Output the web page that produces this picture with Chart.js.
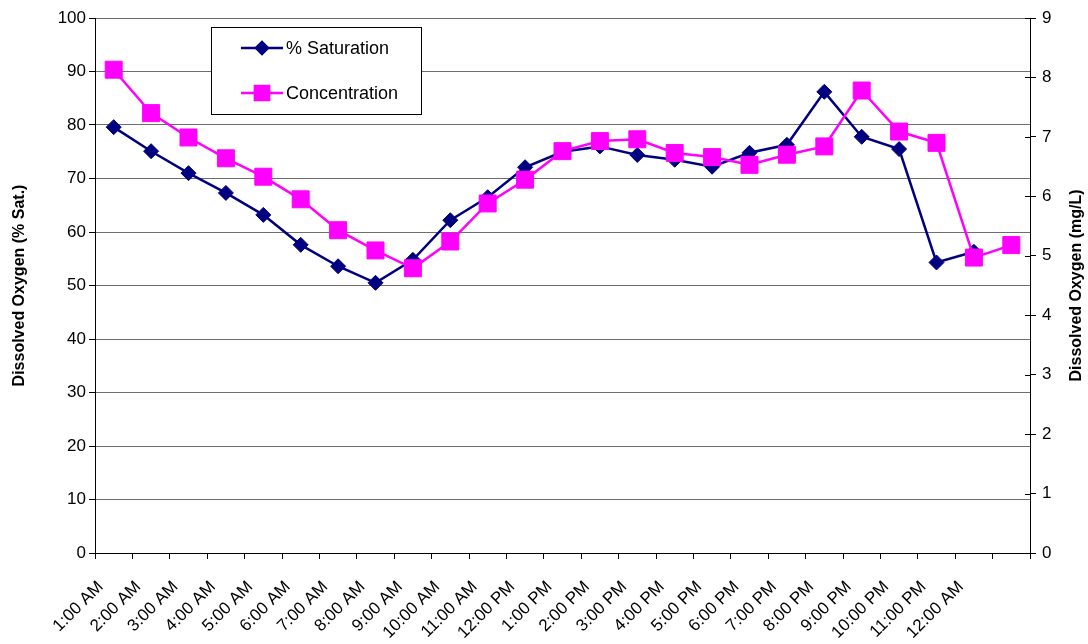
<!DOCTYPE html>
<html>
<head>
<meta charset="utf-8">
<script src="https://cdn.jsdelivr.net/npm/chart.js@4.4.1/dist/chart.umd.min.js"></script>
<style>
  body { margin: 0; background: #fff; }
</style>
</head>
<body>
<canvas id="chart" width="1088" height="644"></canvas>
<script>
// hourly readings, 25 slots (last one has no label)
const hours = ['1:00 AM', '2:00 AM', '3:00 AM', '4:00 AM', '5:00 AM', '6:00 AM', '7:00 AM', '8:00 AM',
    '9:00 AM', '10:00 AM', '11:00 AM', '12:00 PM', '1:00 PM', '2:00 PM', '3:00 PM', '4:00 PM',
    '5:00 PM', '6:00 PM', '7:00 PM', '8:00 PM', '9:00 PM', '10:00 PM', '11:00 PM', '12:00 AM', ''];

const saturation = [79.6, 75.1, 71.0, 67.3, 63.2, 57.6, 53.6, 50.5, 54.8, 62.2, 66.5, 72.1,
    75.0, 76.0, 74.4, 73.5, 72.2, 74.8, 76.3, 86.2, 77.8, 75.5, 54.3, 56.3, null];

const concentration = [8.13, 7.40, 6.99, 6.64, 6.33, 5.95, 5.43, 5.09, 4.79, 5.24, 5.88, 6.28,
    6.76, 6.93, 6.96, 6.73, 6.66, 6.53, 6.70, 6.84, 7.78, 7.09, 6.90, 4.97, 5.18];

const leftTitle = 'Dissolved Oxygen (% Sat.)';
const rightTitle = 'Dissolved Oxygen (mg/L)';

const FONT = '"Liberation Sans", Arial, sans-serif';
const NAVY = '#000080';
const MAGENTA = '#FF00FF';

// legend box inside the plot, axis titles (both read bottom-to-top), crossing ticks on the right axis
const extras = {
    id: 'extras',
    afterDraw(chart) {
        const ctx = chart.ctx;
        const area = chart.chartArea;

        const y1 = chart.scales.y1;
        ctx.save();
        ctx.strokeStyle = '#000';
        ctx.lineWidth = 1;
        y1.ticks.forEach((t, i) => {
            const y = Math.round(y1.getPixelForTick(i)) + 0.5;
            ctx.beginPath();
            ctx.moveTo(area.right - 5, y);
            ctx.lineTo(area.right, y);
            ctx.stroke();
        });

        // axis titles
        const midY = (area.top + area.bottom) / 2;
        ctx.fillStyle = '#000';
        ctx.font = 'bold 16px ' + FONT;
        ctx.textAlign = 'center';
        ctx.textBaseline = 'middle';
        [[20, leftTitle], [1077, rightTitle]].forEach(([x, text]) => {
            ctx.save();
            ctx.translate(x, midY);
            ctx.rotate(-Math.PI / 2);
            ctx.fillText(text, 0, 0);
            ctx.restore();
        });

        // legend
        const bx = area.left + 116, by = area.top + 9, bw = 210, bh = 87;
        ctx.fillStyle = '#fff';
        ctx.fillRect(bx, by, bw, bh);
        ctx.strokeStyle = '#000';
        ctx.strokeRect(bx + 0.5, by + 0.5, bw, bh);

        const items = [
            { label: '% Saturation', color: NAVY, style: 'rectRot', radius: 6 },
            { label: 'Concentration', color: MAGENTA, style: 'rect', radius: 10 }
        ];
        ctx.font = '18px ' + FONT;
        ctx.textAlign = 'left';
        items.forEach((it, i) => {
            const ly = by + 21 + i * 45;
            ctx.strokeStyle = it.color;
            ctx.lineWidth = 2.5;
            ctx.beginPath();
            ctx.moveTo(bx + 30, ly);
            ctx.lineTo(bx + 72, ly);
            ctx.stroke();
            ctx.fillStyle = it.color;
            Chart.helpers.drawPoint(ctx, { pointStyle: it.style, radius: it.radius, borderWidth: 1 }, bx + 51, ly);
            ctx.fill();
            ctx.fillStyle = '#000';
            ctx.fillText(it.label, bx + 75, ly + 1);
        });
        ctx.restore();
    }
};

new Chart(document.getElementById('chart'), {
    type: 'line',
    data: {
        labels: hours,
        datasets: [
            {
                label: 'Concentration',
                data: concentration,
                yAxisID: 'y1',
                borderColor: MAGENTA,
                backgroundColor: MAGENTA,
                borderWidth: 2.5,
                pointStyle: 'rect',
                pointRadius: 12,
                pointBorderWidth: 1,
                tension: 0,
                order: 0
            },
            {
                label: '% Saturation',
                data: saturation,
                yAxisID: 'y',
                borderColor: NAVY,
                backgroundColor: NAVY,
                borderWidth: 2.5,
                pointStyle: 'rectRot',
                pointRadius: 7.5,
                pointBorderWidth: 1,
                tension: 0,
                order: 1
            }
        ]
    },
    options: {
        responsive: false,
        animation: false,
        layout: { padding: { top: 18, left: 0, right: 0, bottom: 0 } },
        plugins: {
            legend: { display: false },
            tooltip: { enabled: false }
        },
        scales: {
            x: {
                offset: true,
                afterFit(scale) { scale.height = 91; },
                grid: { offset: true, drawOnChartArea: false, drawTicks: true, tickLength: 6, color: '#000' },
                border: { color: '#000', width: 1 },
                ticks: {
                    autoSkip: false,
                    maxRotation: 45,
                    minRotation: 45,
                    padding: 18,
                    labelOffset: -13,
                    color: '#000',
                    font: { family: FONT, size: 17 }
                }
            },
            y: {
                position: 'left',
                min: 0,
                max: 100,
                afterFit(scale) { scale.width = 95; },
                grid: { color: '#6e6e6e', lineWidth: 1, drawTicks: true, tickLength: 6, tickColor: '#000' },
                border: { color: '#000', width: 1 },
                ticks: {
                    stepSize: 10,
                    padding: 3,
                    color: '#000',
                    font: { family: FONT, size: 17 }
                }
            },
            y1: {
                position: 'right',
                min: 0,
                max: 9,
                afterFit(scale) { scale.width = 58; },
                grid: { drawOnChartArea: false, drawTicks: true, tickLength: 6, color: '#000' },
                border: { color: '#000', width: 1 },
                ticks: {
                    stepSize: 1,
                    padding: 6,
                    color: '#000',
                    font: { family: FONT, size: 17 }
                }
            }
        }
    },
    plugins: [extras]
});
</script>
</body>
</html>
